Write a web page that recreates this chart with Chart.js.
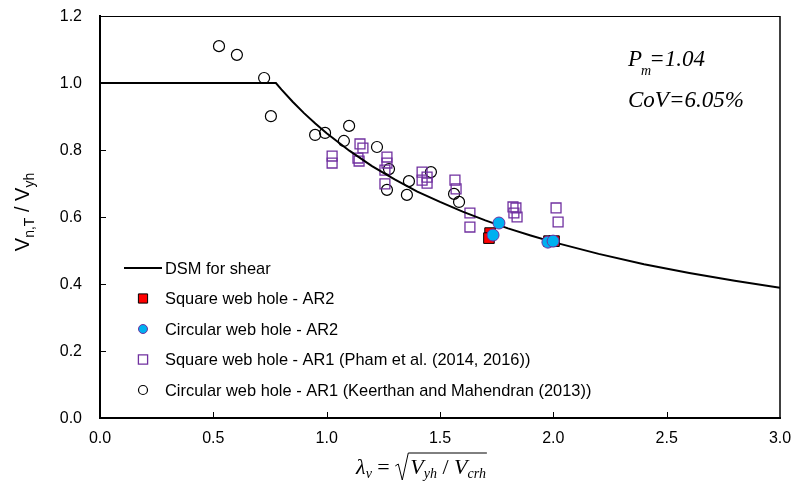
<!DOCTYPE html>
<html>
<head>
<meta charset="utf-8">
<script src="https://cdn.jsdelivr.net/npm/chart.js@4.4.1/dist/chart.umd.min.js"></script>
<style>
  html, body { margin: 0; padding: 0; background: #fff; }
  #wrap { width: 797px; height: 486px; }
</style>
</head>
<body>
<div id="wrap"><canvas id="chart" width="797" height="486"></canvas></div>
<script>
// ----- Data -----

// DSM design curve for shear (points along the drawn line)
const dsmX = [0, 0.776, 0.8, 0.85, 0.9, 0.95, 1.0, 1.1, 1.2, 1.3, 1.4, 1.5, 1.6, 1.7, 1.8, 1.9, 2.0, 2.2, 2.4, 2.6, 2.8, 3.0];
const dsmY = [1.0, 1.0, 0.981, 0.944, 0.910, 0.879, 0.850, 0.798, 0.752, 0.712, 0.676, 0.645, 0.616, 0.590, 0.566, 0.545, 0.525, 0.490, 0.459, 0.433, 0.410, 0.389];

// Square web hole - AR2
const sqAR2X = [1.721, 1.716, 1.981, 2.003];
const sqAR2Y = [0.552, 0.537, 0.528, 0.528];

// Circular web hole - AR2
const circAR2X = [1.760, 1.734, 1.976, 1.999];
const circAR2Y = [0.582, 0.546, 0.525, 0.528];

// Square web hole - AR1 (Pham et al.)
const sqAR1X = [1.024, 1.024, 1.147, 1.160, 1.138, 1.143, 1.266, 1.266, 1.257, 1.257, 1.421, 1.421,
  1.443, 1.443, 1.566, 1.571, 1.632, 1.632, 1.822, 1.835, 1.826, 1.840, 2.012, 2.021];
const sqAR1Y = [0.782, 0.761, 0.818, 0.806, 0.776, 0.767, 0.779, 0.761, 0.740, 0.699, 0.734, 0.710,
  0.719, 0.701, 0.710, 0.684, 0.612, 0.570, 0.630, 0.627, 0.612, 0.600, 0.627, 0.585];

// Circular web hole - AR1 (Keerthan and Mahendran)
const circAR1X = [0.525, 0.604, 0.724, 0.754, 0.949, 0.993, 1.099, 1.076, 1.222, 1.275, 1.266,
  1.363, 1.354, 1.460, 1.562, 1.584];
const circAR1Y = [1.110, 1.084, 1.015, 0.901, 0.845, 0.851, 0.872, 0.827, 0.809, 0.743, 0.681,
  0.707, 0.666, 0.734, 0.669, 0.645];

// Axis ticks
const xTicks = [0, 0.5, 1.0, 1.5, 2.0, 2.5, 3.0];
const yTicks = [0, 0.2, 0.4, 0.6, 0.8, 1.0, 1.2];
const xTickLabels = ["0.0", "0.5", "1.0", "1.5", "2.0", "2.5", "3.0"];
const yTickLabels = ["0.0", "0.2", "0.4", "0.6", "0.8", "1.0", "1.2"];

const legendLabels = [
  "DSM for shear",
  "Square web hole - AR2",
  "Circular web hole - AR2",
  "Square web hole - AR1 (Pham et al. (2014, 2016))",
  "Circular web hole - AR1 (Keerthan and Mahendran (2013))",
];

const SANS = '"Liberation Sans", Arial, sans-serif';
const SERIF = '"Liberation Serif", "Times New Roman", serif';
const PURPLE = "#7030A0";

const toPoints = (xs, ys) => xs.map((x, i) => ({ x, y: ys[i] }));

// ----- Extra drawing: frame, ticks, legend, titles, note -----

// draws text parts [text, font, dy] one after another, returns end x
function drawParts(ctx, parts, x, y) {
  parts.forEach(([t, f, dy]) => {
    ctx.font = f;
    ctx.fillText(t, x, y + (dy || 0));
    x += ctx.measureText(t).width;
  });
  return x;
}
function partsWidth(ctx, parts) {
  let w = 0;
  parts.forEach(([t, f]) => {
    ctx.font = f;
    w += ctx.measureText(t).width;
  });
  return w;
}

const decorPlugin = {
  id: "decor",
  afterDraw(chart) {
    const { ctx, chartArea: a, scales } = chart;
    ctx.save();
    ctx.strokeStyle = "#000";
    ctx.fillStyle = "#000";

    // top & right frame
    ctx.lineWidth = 1;
    ctx.beginPath();
    ctx.moveTo(a.left, a.top + 0.5);
    ctx.lineTo(a.right, a.top + 0.5);
    ctx.stroke();
    ctx.lineWidth = 1.5;
    ctx.beginPath();
    ctx.moveTo(a.right, a.top);
    ctx.lineTo(a.right, a.bottom);
    ctx.stroke();

    // inward tick marks
    ctx.lineWidth = 1;
    xTicks.slice(1, -1).forEach(v => {
      const px = Math.round(scales.x.getPixelForValue(v)) + 0.5;
      ctx.beginPath();
      ctx.moveTo(px, a.bottom);
      ctx.lineTo(px, a.bottom - 6);
      ctx.stroke();
    });
    yTicks.slice(1, -1).forEach(v => {
      const py = Math.round(scales.y.getPixelForValue(v)) + 0.5;
      ctx.beginPath();
      ctx.moveTo(a.left, py);
      ctx.lineTo(a.left + 6, py);
      ctx.stroke();
    });

    // tick labels
    ctx.font = "16px " + SANS;
    ctx.textAlign = "center";
    ctx.textBaseline = "middle";
    xTicks.forEach((v, i) => {
      ctx.fillText(xTickLabels[i], scales.x.getPixelForValue(v), a.bottom + 21);
    });
    ctx.textAlign = "right";
    yTicks.forEach((v, i) => {
      ctx.fillText(yTickLabels[i], a.left - 18, scales.y.getPixelForValue(v) + 1);
    });
    ctx.textAlign = "left";

    // legend
    const lx = 143, ly0 = 268, step = 30.5, tx = 165;
    const legFont = "16.4px " + SANS;
    legendLabels.forEach((label, i) => {
      const y = ly0 + i * step;
      const ds = chart.data.datasets[i];
      if (i === 0) {
        ctx.strokeStyle = "#000";
        ctx.lineWidth = 2;
        ctx.beginPath();
        ctx.moveTo(124, y);
        ctx.lineTo(162, y);
        ctx.stroke();
      } else {
        ctx.fillStyle = ds.backgroundColor;
        ctx.strokeStyle = ds.borderColor;
        ctx.lineWidth = ds.borderWidth;
        Chart.helpers.drawPoint(ctx, {
          pointStyle: ds.pointStyle,
          radius: ds.pointStyle === "rect" ? 6.5 : 4.5,
          rotation: 0,
          borderWidth: ds.borderWidth,
        }, lx, y);
      }
      ctx.fillStyle = "#000";
      ctx.font = legFont;
      ctx.fillText(label, tx, y + 1);
    });

    // P_m and CoV note
    ctx.textBaseline = "alphabetic";
    const it = "italic 23px " + SERIF;
    ctx.font = it;
    ctx.fillText("P", 628, 66);
    const pw = ctx.measureText("P").width;
    ctx.font = "italic 14px " + SERIF;
    ctx.fillText("m", 628 + pw - 1, 75);
    const mw = ctx.measureText("m").width;
    ctx.font = it;
    ctx.fillText("=1.04", 628 + pw + mw - 3, 66);
    ctx.fillText("CoV=6.05%", 628, 107);

    // y axis title
    const yParts = [
      ["V", "20px " + SANS, 0],
      ["n,T", "14px " + SANS, 5],
      [" / V", "20px " + SANS, 0],
      ["yh", "14px " + SANS, 5],
    ];
    ctx.save();
    ctx.translate(29, 212);
    ctx.rotate(-Math.PI / 2);
    const yw = partsWidth(ctx, yParts);
    drawParts(ctx, yParts, -yw / 2, 0);
    ctx.restore();

    // x axis title: lambda_v = sqrt(V_yh / V_crh)
    const base = 474;
    const big = "italic 22px " + SERIF, sub = "italic 14px " + SERIF, rom = "22px " + SERIF;
    const left = [["λ", big, 0], ["v", sub, 4], [" = ", rom, 0]];
    const inner = [["V", big, 0], ["yh", sub, 4], [" / ", rom, 0], ["V", big, 0], ["crh", sub, 4]];
    const rootW = 15;
    const total = partsWidth(ctx, left) + rootW + partsWidth(ctx, inner);
    let x = 421 - total / 2;
    x = drawParts(ctx, left, x, base);
    // radical sign
    ctx.strokeStyle = "#000";
    ctx.lineWidth = 1;
    ctx.beginPath();
    ctx.moveTo(x, base - 8);
    ctx.lineTo(x + 3, base - 10);
    ctx.lineTo(x + 7, base + 6);
    ctx.lineTo(x + 13, base - 21);
    const ix = x + rootW;
    const iend = ix + partsWidth(ctx, inner) + 1;
    ctx.lineTo(iend, base - 21);
    ctx.stroke();
    drawParts(ctx, inner, ix, base);

    ctx.restore();
  },
};

// ----- Chart -----

new Chart(document.getElementById("chart").getContext("2d"), {
  type: "scatter",
  data: {
    datasets: [
      {
        label: legendLabels[0],
        data: toPoints(dsmX, dsmY),
        showLine: true,
        borderColor: "#000",
        borderWidth: 2,
        pointRadius: 0,
        tension: 0,
        order: 3,
      },
      {
        label: legendLabels[1],
        data: toPoints(sqAR2X, sqAR2Y),
        pointStyle: "rect",
        pointRadius: 7.5,
        backgroundColor: "#FF0000",
        borderColor: "#000",
        borderWidth: 1,
        order: 1,
      },
      {
        label: legendLabels[2],
        data: toPoints(circAR2X, circAR2Y),
        pointStyle: "circle",
        pointRadius: 6,
        backgroundColor: "#00B0F0",
        borderColor: PURPLE,
        borderWidth: 1,
        order: 0,
      },
      {
        label: legendLabels[3],
        data: toPoints(sqAR1X, sqAR1Y),
        pointStyle: "rect",
        pointRadius: 7,
        backgroundColor: "rgba(0,0,0,0)",
        borderColor: PURPLE,
        borderWidth: 1.3,
        order: 4,
      },
      {
        label: legendLabels[4],
        data: toPoints(circAR1X, circAR1Y),
        pointStyle: "circle",
        pointRadius: 5.5,
        backgroundColor: "rgba(0,0,0,0)",
        borderColor: "#000",
        borderWidth: 1.2,
        order: 5,
      },
    ],
  },
  options: {
    responsive: false,
    animation: false,
    layout: { padding: { top: 16, right: 17, left: 0, bottom: 0 } },
    plugins: {
      legend: { display: false },
      tooltip: { enabled: false },
    },
    scales: {
      x: {
        type: "linear",
        min: 0,
        max: 3,
        afterBuildTicks: s => { s.ticks = xTicks.map(v => ({ value: v })); },
        afterFit: s => { s.height = 68; },
        ticks: { display: false },
        grid: { display: false },
        border: { display: true, color: "#000", width: 2 },
      },
      y: {
        min: 0,
        max: 1.2,
        afterBuildTicks: s => { s.ticks = yTicks.map(v => ({ value: v })); },
        afterFit: s => { s.width = 100; },
        ticks: { display: false },
        grid: { display: false },
        border: { display: true, color: "#000", width: 2 },
      },
    },
  },
  plugins: [decorPlugin],
});
</script>
</body>
</html>
